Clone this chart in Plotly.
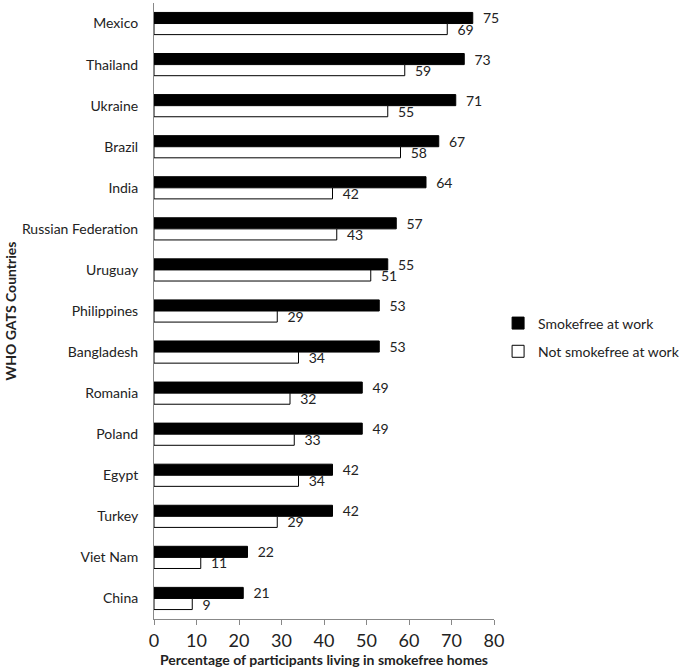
import plotly.graph_objects as go

countries = ["Mexico", "Thailand", "Ukraine", "Brazil", "India", "Russian Federation",
             "Uruguay", "Philippines", "Bangladesh", "Romania", "Poland", "Egypt",
             "Turkey", "Viet Nam", "China"]
smokefree_work = [75, 73, 71, 67, 64, 57, 55, 53, 53, 49, 49, 42, 42, 22, 21]
not_smokefree_work = [69, 59, 55, 58, 42, 43, 51, 29, 34, 32, 33, 34, 29, 11, 9]
x_ticks = [0, 10, 20, 30, 40, 50, 60, 70, 80]

FONT = "Lato, 'Open Sans', sans-serif"

fig = go.Figure()
fig.add_trace(go.Bar(
    y=countries, x=smokefree_work, orientation="h", name="Smokefree at work",
    marker=dict(color="black", line=dict(color="black", width=1)),
    text=smokefree_work, texttemplate="\u00a0\u00a0%{x}", textposition="outside",
    constraintext="none",
    textfont=dict(size=14, color="#222", family=FONT), cliponaxis=False,
    legendgroup="a",
))
fig.add_trace(go.Bar(
    y=countries, x=not_smokefree_work, orientation="h", name="Not smokefree at work",
    marker=dict(color="white", line=dict(color="black", width=1)),
    text=not_smokefree_work, texttemplate="\u00a0\u00a0%{x}", textposition="outside",
    constraintext="none",
    textfont=dict(size=14, color="#222", family=FONT), cliponaxis=False,
    legendgroup="b",
))

fig.update_layout(
    width=685, height=672,
    margin=dict(l=154, r=191, t=3, b=53, autoexpand=False),
    paper_bgcolor="white", plot_bgcolor="white",
    barmode="group", bargap=0.46, bargroupgap=0,
    font=dict(family=FONT, color="#222", size=14),
    showlegend=True,
    legend=dict(x=1.012, xanchor="left", y=0.457, yanchor="middle",
                font=dict(size=14, family=FONT, color="#222"),
                tracegroupgap=7, bgcolor="rgba(0,0,0,0)", itemwidth=30),
    xaxis=dict(range=[0, 80], tickvals=x_ticks, ticks="outside", ticklen=5,
               tickcolor="#888", showline=True, linecolor="#888", linewidth=1,
               showgrid=False, zeroline=False,
               tickfont=dict(size=18, family=FONT, color="#222"),
               title=dict(text="<b>Percentage of participants living in smokefree homes</b>",
                          font=dict(size=14, family=FONT, color="#222"), standoff=5)),
    yaxis=dict(autorange="reversed", showline=True, linecolor="#888", linewidth=1,
               showgrid=False, zeroline=False, ticks="", ticklabelstandoff=12,
               tickfont=dict(size=14, family=FONT, color="#222"),
               title=dict(text="<b>WHO GATS Countries</b>",
                          font=dict(size=14, family=FONT, color="#222"), standoff=2)),
)

fig.write_html("out.html", config={"displayModeBar": False},
               post_script="document.body.style.margin='0px';")
